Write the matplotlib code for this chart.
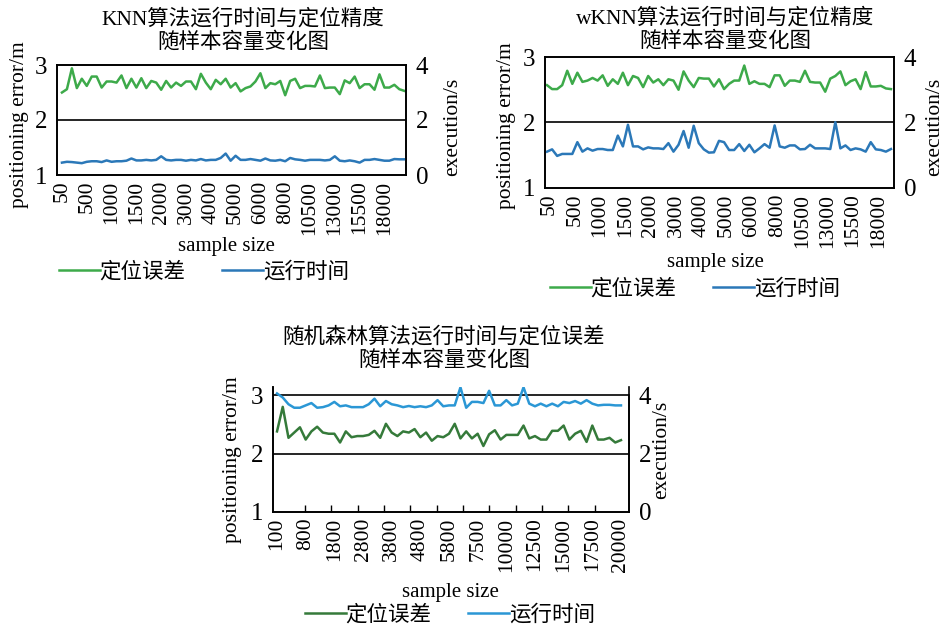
import numpy as np
import matplotlib
matplotlib.use('Agg')
import matplotlib.pyplot as plt

plt.rcParams['font.family'] = ['Liberation Serif', 'Noto Sans CJK SC']

# ---- data ----
knn_labels = ['50', '500', '1000', '1500', '2000', '3000', '4000', '5000',
              '6000', '8000', '10500', '13000', '15500', '18000']
knn_error = [2.50, 2.56, 2.94, 2.58, 2.75, 2.62, 2.79, 2.79, 2.59, 2.70,
             2.70, 2.68, 2.81, 2.58, 2.75, 2.59, 2.76, 2.58, 2.71, 2.68,
             2.55, 2.71, 2.59, 2.68, 2.62, 2.70, 2.70, 2.56, 2.84, 2.68,
             2.56, 2.73, 2.65, 2.75, 2.59, 2.67, 2.52, 2.58, 2.61, 2.70,
             2.85, 2.58, 2.67, 2.65, 2.71, 2.45, 2.71, 2.75, 2.58, 2.62,
             2.62, 2.61, 2.81, 2.58, 2.59, 2.59, 2.47, 2.72, 2.67, 2.79,
             2.58, 2.65, 2.65, 2.55, 2.83, 2.59, 2.59, 2.64, 2.56, 2.53]
knn_time = [0.45, 0.48, 0.47, 0.45, 0.43, 0.48, 0.50, 0.50, 0.47, 0.53,
            0.48, 0.50, 0.50, 0.52, 0.60, 0.53, 0.53, 0.55, 0.53, 0.55,
            0.68, 0.55, 0.53, 0.55, 0.55, 0.52, 0.55, 0.53, 0.58, 0.53,
            0.55, 0.55, 0.62, 0.78, 0.52, 0.70, 0.55, 0.55, 0.58, 0.55,
            0.52, 0.60, 0.53, 0.52, 0.55, 0.50, 0.62, 0.57, 0.55, 0.52,
            0.55, 0.55, 0.55, 0.53, 0.55, 0.68, 0.52, 0.50, 0.53, 0.50,
            0.45, 0.55, 0.55, 0.58, 0.55, 0.52, 0.52, 0.58, 0.57, 0.57]

wknn_labels = knn_labels
wknn_error = [2.57, 2.51, 2.51, 2.57, 2.79, 2.59, 2.76, 2.62, 2.64, 2.68,
              2.64, 2.72, 2.56, 2.66, 2.59, 2.76, 2.57, 2.71, 2.68, 2.54,
              2.71, 2.61, 2.66, 2.57, 2.66, 2.64, 2.50, 2.78, 2.64, 2.54,
              2.68, 2.67, 2.67, 2.55, 2.66, 2.51, 2.59, 2.64, 2.64, 2.87,
              2.59, 2.63, 2.59, 2.59, 2.54, 2.72, 2.72, 2.56, 2.64, 2.64,
              2.62, 2.79, 2.62, 2.61, 2.61, 2.47, 2.67, 2.71, 2.78, 2.57,
              2.63, 2.66, 2.51, 2.77, 2.55, 2.55, 2.56, 2.52, 2.51]
wknn_time = [1.11, 1.18, 0.98, 1.04, 1.04, 1.04, 1.40, 1.11, 1.21, 1.14,
             1.19, 1.19, 1.16, 1.16, 1.60, 1.27, 1.93, 1.27, 1.27, 1.18,
             1.24, 1.21, 1.21, 1.19, 1.37, 1.11, 1.32, 1.74, 1.23, 1.90,
             1.37, 1.18, 1.08, 1.09, 1.44, 1.40, 1.16, 1.16, 1.34, 1.13,
             1.32, 1.09, 1.21, 1.34, 1.23, 1.91, 1.27, 1.23, 1.30, 1.30,
             1.18, 1.19, 1.32, 1.21, 1.21, 1.21, 1.19, 2.01, 1.21, 1.30,
             1.16, 1.21, 1.18, 1.11, 1.40, 1.18, 1.16, 1.11, 1.19]

rf_labels = ['100', '800', '1800', '2800', '3800', '4800', '5800', '7500',
             '10000', '12500', '15000', '17500', '20000']
rf_error = [2.38, 2.80, 2.27, 2.36, 2.45, 2.24, 2.38, 2.46, 2.36, 2.34,
            2.34, 2.19, 2.38, 2.28, 2.30, 2.30, 2.32, 2.39, 2.27, 2.51,
            2.36, 2.30, 2.38, 2.36, 2.42, 2.28, 2.36, 2.22, 2.30, 2.28,
            2.34, 2.51, 2.26, 2.38, 2.26, 2.34, 2.13, 2.33, 2.40, 2.24,
            2.32, 2.32, 2.32, 2.48, 2.26, 2.30, 2.24, 2.24, 2.39, 2.39,
            2.48, 2.24, 2.34, 2.39, 2.20, 2.48, 2.24, 2.24, 2.27, 2.19,
            2.23]
rf_time = [4.06, 3.92, 3.69, 3.57, 3.57, 3.65, 3.73, 3.57, 3.59, 3.65,
           3.77, 3.62, 3.65, 3.59, 3.59, 3.59, 3.69, 3.88, 3.62, 3.80,
           3.69, 3.65, 3.59, 3.63, 3.59, 3.62, 3.59, 3.65, 3.83, 3.62,
           3.65, 3.65, 4.27, 3.57, 3.77, 3.77, 3.73, 4.15, 3.65, 3.65,
           3.83, 3.65, 3.71, 4.27, 3.71, 3.62, 3.71, 3.62, 3.71, 3.62,
           3.77, 3.73, 3.80, 3.71, 3.83, 3.71, 3.65, 3.67, 3.67, 3.65,
           3.65]

W, H = 944, 628


def px(x, y):
    return x / W, 1 - y / H


def panel(rect, err, t, labels, label_pos, mark_pos, xlim, c_err, c_time,
          title, title_xy, xlab_xy, leg_xy, ylab_x, ylab_y, ylim_top=3.0):
    l, r, top, bot = rect
    ax = fig.add_axes([l / W, 1 - bot / H, (r - l) / W, (bot - top) / H])
    ax2 = ax.twinx()
    x = np.arange(len(err))
    h1, = ax.plot(x, err, color=c_err, lw=1.8, label='定位误差')
    h2, = ax2.plot(x, t, color=c_time, lw=1.8, label='运行时间')
    ax.set_ylim(1, ylim_top)
    ax2.set_ylim(0, (ylim_top - 1) * 2)
    ax.set_xlim(*xlim)
    ax.set_yticks([1, 2, 3])
    ax2.set_yticks([0, 2, 4])
    ax.axhline(2, color='black', lw=1.2)
    ax.set_xticks(label_pos)
    ax.set_xticklabels(labels, rotation=90)
    ax.set_xticks(mark_pos, minor=True)
    ax.tick_params(axis='x', which='major', length=0, labelsize=15.5, pad=4)
    ax.tick_params(axis='x', which='minor', direction='in', length=5, width=1)
    ax.tick_params(axis='y', length=0, labelsize=18, pad=7)
    ax2.tick_params(axis='y', length=0, labelsize=18, pad=7)
    for a in (ax, ax2):
        for s in a.spines.values():
            s.set_linewidth(1.2)
            s.set_color('black')
    if ylim_top > 3:
        ax.axhline(3, color='black', lw=1.2)
        for a in (ax, ax2):
            a.spines['top'].set_visible(False)
        ax2.spines['right'].set_bounds(0, 4)
    fig.text(*px(*title_xy), title, ha='center', va='center', fontsize=15.5,
             linespacing=1.2)
    fig.text(*px(*xlab_xy), 'sample size', ha='center', va='center', fontsize=15)
    fig.text(*px(ylab_x[0], ylab_y[0]), 'positioning error/m', rotation=90,
             ha='center', va='center', fontsize=15.5)
    fig.text(*px(ylab_x[1], ylab_y[1]), 'execution/s', rotation=90,
             ha='center', va='center', fontsize=15.5)
    fig.legend(handles=[h1, h2], loc='center', bbox_to_anchor=px(*leg_xy),
               ncol=2, frameon=False, fontsize=15.5, handlelength=1.9,
               handletextpad=0.0, columnspacing=1.7, borderpad=0)
    return ax, ax2


fig = plt.figure(figsize=(9.44, 6.28), dpi=100)

panel((57, 406, 65, 175), knn_error, knn_time, knn_labels,
      np.arange(0, 66, 5), np.arange(5, 66, 5), (-1, 69.35),
      '#3daa4a', '#2b78b8', 'KNN算法运行时间与定位精度\n随样本容量变化图',
      (243, 31), (226, 246), (204, 272), (20, 453), (125, 127))

panel((545, 894, 57, 188), wknn_error, wknn_time, wknn_labels,
      np.arange(0, 66, 5) + 0.5, np.arange(5, 66, 5) + 0.5, (-0.4, 68.6),
      '#3daa4a', '#2b78b8', 'wKNN算法运行时间与定位精度\n随样本容量变化图',
      (725, 30), (715, 262), (695, 289), (507, 935), (126, 127))

panel((273, 629, 387, 512), rf_error, rf_time, rf_labels,
      np.arange(0, 61, 5), np.linspace(4.9, 60, 13), (-0.7, 61.4),
      '#357a3a', '#2b97d5', '随机森林算法运行时间与定位误差\n随样本容量变化图',
      (444, 349), (450, 592), (450, 615), (233, 662), (460, 450),
      ylim_top=3.14)

fig.savefig('out.png', dpi=100)
